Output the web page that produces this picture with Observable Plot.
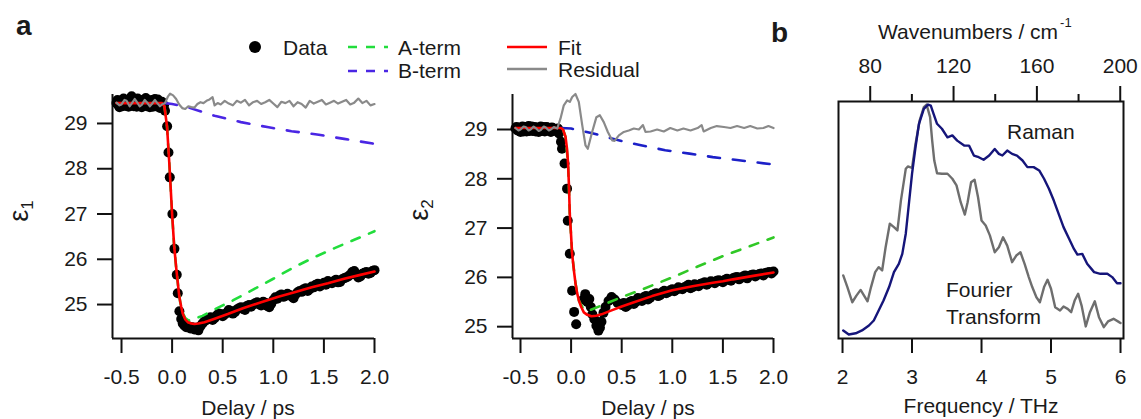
<!DOCTYPE html>
<html><head><meta charset="utf-8">
<script src="https://cdn.jsdelivr.net/npm/d3@7"></script>
<script src="https://cdn.jsdelivr.net/npm/@observablehq/plot@0.6"></script>
<style>
html,body{margin:0;padding:0;background:#fff;}
#wrap{position:relative;width:1141px;height:419px;overflow:hidden;font-family:"Liberation Sans",Arial,sans-serif;}
</style></head><body><div id="wrap"></div>
<script>
// ---------- Panel a, left: epsilon_1 ----------
const dataE1 = [[-0.55,29.45],[-0.54,29.52],[-0.53,29.40],[-0.52,29.36],[-0.51,29.48],[-0.50,29.44],[-0.49,29.38],[-0.48,29.55],[-0.47,29.50],[-0.46,29.39],[-0.45,29.44],[-0.44,29.48],[-0.43,29.37],[-0.42,29.52],[-0.41,29.56],[-0.40,29.60],[-0.39,29.50],[-0.38,29.38],[-0.37,29.42],[-0.36,29.46],[-0.35,29.37],[-0.34,29.55],[-0.33,29.48],[-0.32,29.40],[-0.31,29.52],[-0.30,29.36],[-0.29,29.40],[-0.28,29.50],[-0.27,29.45],[-0.26,29.56],[-0.25,29.38],[-0.24,29.44],[-0.23,29.50],[-0.22,29.36],[-0.21,29.43],[-0.20,29.52],[-0.19,29.37],[-0.18,29.45],[-0.17,29.54],[-0.16,29.38],[-0.15,29.47],[-0.14,29.53],[-0.13,29.40],[-0.12,29.34],[-0.11,29.44],[-0.10,29.48],[-0.09,29.36],[-0.08,29.40],[-0.07,29.28],
[-0.049,28.94],[-0.036,28.36],[-0.023,27.81],[0.003,27.0],[0.023,26.23],[0.046,25.66],[0.056,25.25],[0.072,24.85],
[0.09,24.68],[0.105,24.58],[0.12,24.54],[0.14,24.50],[0.16,24.52],[0.18,24.47],[0.20,24.50],[0.22,24.45],[0.24,24.49],[0.26,24.43],[0.28,24.52],[0.30,24.58],
[0.32,24.63],[0.34,24.66],[0.36,24.70],[0.38,24.72],[0.40,24.66],[0.42,24.70],[0.44,24.76],[0.46,24.80],[0.48,24.79],[0.50,24.74],[0.52,24.78],[0.54,24.82],[0.56,24.88],[0.58,24.86],[0.60,24.80],[0.62,24.83],[0.64,24.89],[0.66,24.92],[0.68,24.94],[0.70,24.90],[0.72,24.88],[0.74,24.97],[0.76,24.99],[0.78,24.95],[0.80,25.00],[0.82,25.03],[0.84,25.05],[0.86,25.00],[0.88,24.98],[0.90,25.06],[0.92,25.04],[0.94,24.97],[0.96,24.94],[0.98,25.02],[1.00,25.10],[1.02,25.16],[1.04,25.13],[1.06,25.20],[1.08,25.22],[1.10,25.17],[1.12,25.19],[1.14,25.24],[1.16,25.21],[1.18,25.18],[1.20,25.14],[1.22,25.22],[1.24,25.27],[1.26,25.30],[1.28,25.28],[1.30,25.34],[1.32,25.36],[1.34,25.30],[1.36,25.34],[1.38,25.40],[1.40,25.38],[1.42,25.44],[1.44,25.46],[1.46,25.40],[1.48,25.44],[1.50,25.48],[1.52,25.44],[1.54,25.52],[1.56,25.50],[1.58,25.47],[1.60,25.52],[1.62,25.55],[1.64,25.49],[1.66,25.50],[1.68,25.56],[1.70,25.58],[1.72,25.60],[1.74,25.62],[1.76,25.66],[1.78,25.72],[1.80,25.74],[1.82,25.66],[1.84,25.60],[1.86,25.62],[1.88,25.68],[1.90,25.70],[1.92,25.72],[1.94,25.68],[1.96,25.70],[1.98,25.74],[2.0,25.76]];
const fitE1 = [[-0.55,29.45],[-0.1,29.45],[-0.076,29.38],[-0.05,28.93],[-0.027,28.1],[0.0,27.0],[0.02,26.3],[0.04,25.82],[0.06,25.4],[0.072,25.16],[0.09,24.95],[0.105,24.8],[0.13,24.67],[0.155,24.61],[0.19,24.58],[0.22,24.57],[0.26,24.58],[0.32,24.61],[0.4,24.67],[0.55,24.79],[0.7,24.92],[0.88,25.05],[1.05,25.17],[1.21,25.27],[1.38,25.38],[1.54,25.47],[1.7,25.57],[1.85,25.65],[2.0,25.73]];
const aTermE1 = [[-0.076,29.38],[-0.05,28.93],[-0.027,28.1],[0.0,27.0],[0.02,26.3],[0.04,25.82],[0.06,25.4],[0.08,25.05],[0.1,24.84],[0.13,24.7],[0.16,24.65],[0.2,24.67],[0.3,24.75],[0.4,24.87],[0.5,24.98],[0.6,25.09],[0.8,25.33],[1.0,25.57],[1.2,25.82],[1.4,26.04],[1.6,26.24],[1.8,26.43],[2.0,26.62]];
const bTermE1 = [[-0.07,29.45],[0.0,29.43],[0.15,29.36],[0.42,29.17],[0.68,29.03],[0.94,28.92],[1.18,28.83],[1.45,28.75],[1.7,28.66],[2.0,28.55]];
const residE1 = [[-0.55,29.46],[-0.52,29.40],[-0.5,29.42],[-0.47,29.52],[-0.45,29.5],[-0.42,29.38],[-0.4,29.44],[-0.37,29.54],[-0.35,29.48],[-0.32,29.38],[-0.3,29.41],[-0.27,29.52],[-0.25,29.47],[-0.22,29.38],[-0.2,29.43],[-0.17,29.52],[-0.15,29.46],[-0.12,29.38],[-0.1,29.42],[-0.07,29.45],[-0.04,29.6],[-0.02,29.66],[0.01,29.62],[0.04,29.54],[0.07,29.42],[0.1,29.34],[0.13,29.32],[0.16,29.38],[0.19,29.36],[0.22,29.35],[0.25,29.43],[0.28,29.47],[0.31,29.45],[0.34,29.5],[0.37,29.53],[0.40,29.58],[0.42,29.40],[0.45,29.45],[0.48,29.42],[0.52,29.5],[0.56,29.44],[0.6,29.40],[0.64,29.5],[0.68,29.46],[0.72,29.52],[0.76,29.40],[0.8,29.47],[0.84,29.5],[0.88,29.43],[0.92,29.47],[0.96,29.52],[1.0,29.44],[1.04,29.36],[1.08,29.48],[1.12,29.45],[1.16,29.5],[1.2,29.38],[1.24,29.47],[1.28,29.43],[1.32,29.35],[1.36,29.5],[1.4,29.44],[1.44,29.48],[1.48,29.52],[1.52,29.42],[1.56,29.46],[1.6,29.5],[1.64,29.44],[1.68,29.48],[1.72,29.52],[1.76,29.42],[1.8,29.46],[1.84,29.55],[1.88,29.45],[1.92,29.5],[1.96,29.4],[2.0,29.43]];

// ---------- Panel a, right: epsilon_2 ----------
const dataE2 = [[-0.55,29.02],[-0.54,29.05],[-0.53,28.98],[-0.52,28.99],[-0.51,29.04],[-0.50,28.95],[-0.49,29.00],[-0.48,29.06],[-0.47,28.96],[-0.46,29.01],[-0.45,29.05],[-0.44,28.96],[-0.43,29.02],[-0.42,29.07],[-0.41,28.97],[-0.40,29.02],[-0.39,29.06],[-0.38,28.97],[-0.37,29.00],[-0.36,29.05],[-0.35,28.96],[-0.34,28.99],[-0.33,29.04],[-0.32,28.95],[-0.31,29.01],[-0.30,29.06],[-0.29,28.97],[-0.28,29.01],[-0.27,29.05],[-0.26,28.96],[-0.25,28.99],[-0.24,29.05],[-0.23,29.03],[-0.22,29.00],[-0.21,28.97],[-0.20,28.95],[-0.19,29.04],[-0.18,29.03],[-0.17,29.00],[-0.16,29.00],[-0.15,28.98],[-0.14,28.96],[-0.13,29.02],
[-0.12,28.92],[-0.10,28.75],[-0.09,28.61],[-0.065,28.31],[-0.04,27.80],[-0.033,27.15],[-0.013,26.48],[0.01,25.73],
[0.03,25.30],[0.05,25.05],[0.12,25.55],[0.14,25.66],[0.16,25.50],[0.18,25.56],[0.195,25.40],[0.21,25.25],[0.23,25.15],[0.25,25.02],[0.27,24.92],[0.285,24.98],[0.30,25.10],[0.32,25.28],[0.34,25.40],[0.37,25.52],[0.40,25.60],[0.43,25.55],[0.46,25.48],
[0.50,25.44],[0.52,25.48],[0.54,25.40],[0.56,25.43],[0.58,25.50],[0.60,25.52],[0.62,25.46],[0.64,25.50],[0.66,25.58],[0.68,25.55],[0.70,25.52],[0.72,25.60],[0.74,25.62],[0.76,25.55],[0.78,25.58],[0.80,25.64],[0.82,25.66],[0.84,25.68],[0.86,25.62],[0.88,25.64],[0.90,25.70],[0.92,25.73],[0.94,25.68],[0.96,25.70],[0.98,25.74],[1.00,25.76],[1.02,25.72],[1.04,25.75],[1.06,25.80],[1.08,25.78],[1.10,25.76],[1.12,25.80],[1.14,25.82],[1.16,25.85],[1.18,25.78],[1.20,25.80],[1.22,25.86],[1.24,25.84],[1.26,25.82],[1.28,25.87],[1.30,25.88],[1.32,25.90],[1.34,25.85],[1.36,25.88],[1.38,25.92],[1.40,25.91],[1.42,25.88],[1.44,25.93],[1.46,25.94],[1.48,25.92],[1.50,25.90],[1.52,25.95],[1.54,25.97],[1.56,25.95],[1.58,25.93],[1.60,25.98],[1.62,26.00],[1.64,26.01],[1.66,25.96],[1.68,25.99],[1.70,26.02],[1.72,26.04],[1.74,25.98],[1.76,26.03],[1.78,26.05],[1.80,26.06],[1.82,26.02],[1.84,26.05],[1.86,26.07],[1.88,26.08],[1.90,26.04],[1.92,26.09],[1.94,26.10],[1.96,26.11],[1.98,26.08],[2.0,26.12]];
const fitE2 = [[-0.55,29.03],[-0.1,29.03],[-0.08,29.0],[-0.055,28.85],[-0.04,28.6],[-0.03,28.31],[-0.02,27.8],[-0.013,27.29],[0.0,26.85],[0.01,26.48],[0.03,26.1],[0.044,25.87],[0.06,25.68],[0.077,25.53],[0.1,25.4],[0.126,25.29],[0.16,25.24],[0.2,25.21],[0.25,25.22],[0.3,25.25],[0.4,25.33],[0.5,25.41],[0.6,25.48],[0.8,25.62],[1.0,25.74],[1.2,25.82],[1.4,25.89],[1.5,25.92],[1.6,25.96],[1.8,26.03],[2.0,26.10]];
const aTermE2 = [[-0.08,29.0],[-0.055,28.85],[-0.03,28.31],[-0.013,27.29],[0.01,26.48],[0.044,25.87],[0.077,25.53],[0.12,25.36],[0.16,25.32],[0.19,25.34],[0.3,25.43],[0.5,25.6],[0.72,25.77],[1.0,26.0],[1.25,26.22],[1.51,26.44],[1.75,26.62],[2.0,26.81]];
const bTermE2 = [[-0.1,29.03],[0.0,29.02],[0.22,28.92],[0.45,28.79],[0.69,28.68],[0.93,28.58],[1.17,28.51],[1.4,28.44],[1.64,28.38],[2.0,28.29]];
const residE2 = [[-0.55,29.03],[-0.52,28.98],[-0.5,29.0],[-0.47,29.06],[-0.45,29.05],[-0.42,28.98],[-0.4,29.0],[-0.37,29.06],[-0.35,29.03],[-0.32,28.97],[-0.3,28.99],[-0.27,29.06],[-0.25,29.04],[-0.22,28.98],[-0.2,29.0],[-0.17,29.05],[-0.15,29.03],[-0.137,29.02],[-0.105,29.22],[-0.072,29.49],[-0.039,29.59],[-0.013,29.56],[0.011,29.66],[0.043,29.72],[0.076,29.56],[0.11,29.09],[0.142,28.68],[0.165,28.61],[0.208,28.95],[0.25,29.25],[0.284,29.29],[0.323,29.15],[0.363,28.95],[0.406,28.78],[0.43,28.77],[0.472,28.88],[0.521,28.95],[0.57,28.98],[0.62,29.02],[0.67,29.0],[0.71,29.09],[0.735,28.95],[0.785,28.96],[0.85,29.0],[0.916,28.96],[0.98,29.03],[1.05,28.98],[1.11,29.02],[1.18,28.98],[1.25,29.03],[1.29,29.09],[1.31,28.96],[1.38,29.03],[1.44,29.07],[1.51,29.05],[1.575,29.03],[1.64,29.07],[1.71,29.03],[1.77,29.07],[1.84,29.02],[1.9,29.03],[1.95,29.07],[2.0,29.03]];

// ---------- Panel b ----------
const raman = [[2.01,0.034],[2.09,0.017],[2.19,0.022],[2.28,0.034],[2.38,0.055],[2.45,0.076],[2.52,0.118],[2.59,0.160],[2.67,0.217],[2.74,0.280],[2.81,0.315],[2.86,0.357],[2.91,0.442],[2.95,0.554],[3.00,0.695],[3.05,0.807],[3.10,0.906],[3.17,0.969],[3.23,0.987],[3.27,0.983],[3.31,0.948],[3.36,0.906],[3.43,0.885],[3.51,0.849],[3.58,0.857],[3.65,0.835],[3.75,0.814],[3.82,0.814],[3.89,0.772],[3.96,0.765],[4.03,0.754],[4.11,0.772],[4.19,0.800],[4.25,0.779],[4.30,0.772],[4.37,0.793],[4.44,0.779],[4.51,0.772],[4.59,0.751],[4.66,0.723],[4.75,0.723],[4.83,0.709],[4.90,0.674],[4.97,0.632],[5.04,0.582],[5.11,0.526],[5.18,0.470],[5.26,0.421],[5.33,0.378],[5.38,0.354],[5.45,0.357],[5.52,0.315],[5.62,0.280],[5.71,0.273],[5.81,0.273],[5.88,0.259],[5.95,0.233],[6.00,0.233]];
const fourier = [[2.01,0.266],[2.07,0.217],[2.14,0.153],[2.20,0.181],[2.26,0.205],[2.31,0.181],[2.36,0.157],[2.41,0.217],[2.47,0.280],[2.52,0.301],[2.57,0.287],[2.62,0.385],[2.68,0.484],[2.74,0.470],[2.79,0.456],[2.84,0.582],[2.91,0.716],[2.94,0.726],[3.00,0.720],[3.05,0.821],[3.11,0.920],[3.17,0.976],[3.21,0.987],[3.26,0.934],[3.29,0.835],[3.32,0.751],[3.36,0.697],[3.43,0.695],[3.51,0.695],[3.58,0.674],[3.64,0.646],[3.70,0.575],[3.76,0.523],[3.80,0.575],[3.85,0.659],[3.90,0.670],[3.95,0.596],[4.00,0.498],[4.06,0.477],[4.12,0.435],[4.19,0.364],[4.25,0.385],[4.31,0.427],[4.37,0.392],[4.44,0.322],[4.50,0.350],[4.56,0.364],[4.62,0.315],[4.68,0.259],[4.73,0.217],[4.79,0.174],[4.84,0.153],[4.90,0.217],[4.95,0.248],[5.00,0.210],[5.06,0.132],[5.13,0.118],[5.18,0.135],[5.24,0.125],[5.29,0.111],[5.34,0.160],[5.39,0.189],[5.44,0.139],[5.50,0.051],[5.56,0.111],[5.63,0.157],[5.69,0.090],[5.76,0.048],[5.82,0.072],[5.90,0.083],[5.98,0.069],[6.00,0.065]];

const delayTicks = [-0.5, 0, 0.5, 1, 1.5, 2];
const epsTicks = [25, 26, 27, 28, 29];
const freqTicks = [2, 3, 4, 5, 6];
const wnMajor = [80, 120, 160, 200];
const wnMinor = [100, 140, 180];
const CM_PER_THZ = 33.356;

const FONT = "'Liberation Sans', Arial, sans-serif";
const wrap = document.getElementById("wrap");
const px = d => d[0], py = d => d[1];

function baseStyle(left) {
  return {position: "absolute", left: left + "px", top: "0px", background: "transparent",
          fontFamily: FONT, fontSize: "21px", color: "#1a1a1a", overflow: "visible", maxWidth: "none"};
}

function deltaPanel(cfg) {
  return Plot.plot({
    width: cfg.width, height: 419,
    marginLeft: cfg.ml, marginRight: cfg.mr, marginTop: 94, marginBottom: 81,
    style: baseStyle(cfg.left),
    x: {domain: cfg.xd},
    y: {domain: cfg.yd},
    marks: [
      Plot.ruleX([cfg.xd[0]], {stroke: "#111", strokeWidth: 2}),
      Plot.ruleY([cfg.yd[0]], {stroke: "#111", strokeWidth: 2}),
      Plot.axisX({ticks: delayTicks, tickSize: 15, tickPadding: 16, strokeWidth: 2, stroke: "#111",
                  tickFormat: d => d.toFixed(1), label: null, fontSize: 21}),
      Plot.axisY({ticks: epsTicks, tickSize: 15, tickPadding: 10, strokeWidth: 2, stroke: "#111",
                  tickFormat: d => String(d), label: null, fontSize: 21}),
      Plot.dot(cfg.data, {x: px, y: py, r: 5, fill: "#000", stroke: null}),
      Plot.line(cfg.bterm, {x: px, y: py, stroke: cfg.bColor, strokeWidth: 2.6, strokeDasharray: "12,13"}),
      Plot.line(cfg.aterm, {x: px, y: py, stroke: cfg.aColor, strokeWidth: 2.6, strokeDasharray: "9,10"}),
      Plot.line(cfg.fit, {x: px, y: py, stroke: "#ff0000", strokeWidth: 2.6}),
      Plot.line(cfg.resid, {x: px, y: py, stroke: "#8a8a8a", strokeWidth: 2.2})
    ]
  });
}

wrap.appendChild(deltaPanel({left: 0, width: 420, ml: 112, mr: 46, xd: [-0.589, 2.0], yd: [24.25, 29.64],
  data: dataE1, fit: fitE1, aterm: aTermE1, bterm: bTermE1, resid: residE1, aColor: "#22dd3c", bColor: "#4a26e4"}));
wrap.appendChild(deltaPanel({left: 420, width: 380, ml: 92, mr: 27, xd: [-0.579, 2.0], yd: [24.76, 29.71],
  data: dataE2, fit: fitE2, aterm: aTermE2, bterm: bTermE2, resid: residE2, aColor: "#30c826", bColor: "#1c20c8"}));

const panelB = Plot.plot({
  width: 351, height: 419,
  marginLeft: 48, marginRight: 18, marginTop: 101, marginBottom: 81,
  style: baseStyle(790),
  x: {domain: [1.942, 6.043]},
  y: {domain: [0, 1], axis: null},
  marks: [
    Plot.frame({stroke: "#111", strokeWidth: 2}),
    Plot.axisX({ticks: freqTicks, tickSize: 15, tickPadding: 16, strokeWidth: 2, stroke: "#111",
                tickFormat: d => String(d), label: null, fontSize: 21}),
    Plot.axisX({anchor: "top", ticks: wnMajor.map(w => w / CM_PER_THZ), tickSize: 16, tickPadding: 13,
                strokeWidth: 2, stroke: "#111", tickFormat: d => String(Math.round(d * CM_PER_THZ)), label: null, fontSize: 21}),
    Plot.axisX({anchor: "top", ticks: wnMinor.map(w => w / CM_PER_THZ), tickSize: 8, tickPadding: 0,
                strokeWidth: 2, stroke: "#111", tickFormat: () => "", label: null}),
    Plot.line(fourier, {x: px, y: py, stroke: "#6e6e6e", strokeWidth: 2.4}),
    Plot.line(raman, {x: px, y: py, stroke: "#15157a", strokeWidth: 2.4})
  ]
});
wrap.appendChild(panelB);

// ---------- overlay: panel letters, legend, axis titles, annotations ----------
const ov = d3.create("svg").attr("width", 1141).attr("height", 419)
  .style("position", "absolute").style("left", "0px").style("top", "0px")
  .style("font-family", FONT).style("font-size", "21px").attr("fill", "#1a1a1a");

function txt(x, y, s, opts = {}) {
  const t = ov.append("text").attr("x", x).attr("y", y).text(s);
  if (opts.anchor) t.attr("text-anchor", opts.anchor);
  if (opts.size) t.attr("font-size", opts.size);
  if (opts.weight) t.attr("font-weight", opts.weight);
  return t;
}
txt(16, 35, "a", {size: 28, weight: "bold"});
txt(771, 42, "b", {size: 28, weight: "bold"});

// legend
ov.append("circle").attr("cx", 255).attr("cy", 47).attr("r", 6).attr("fill", "#000");
txt(283, 55, "Data");
ov.append("line").attr("x1", 348).attr("x2", 388).attr("y1", 47).attr("y2", 47)
  .attr("stroke", "#22dd3c").attr("stroke-width", 2.6).attr("stroke-dasharray", "9,9");
txt(398, 55, "A-term");
ov.append("line").attr("x1", 348).attr("x2", 388).attr("y1", 71).attr("y2", 71)
  .attr("stroke", "#4a26e4").attr("stroke-width", 2.6).attr("stroke-dasharray", "9,9");
txt(398, 78, "B-term");
ov.append("line").attr("x1", 507).attr("x2", 547).attr("y1", 47).attr("y2", 47)
  .attr("stroke", "#ff0000").attr("stroke-width", 2.6);
txt(558, 55, "Fit");
ov.append("line").attr("x1", 507).attr("x2", 547).attr("y1", 69).attr("y2", 69)
  .attr("stroke", "#8a8a8a").attr("stroke-width", 2.6);
txt(558, 77, "Residual");

// axis titles
txt(248, 415, "Delay / ps", {anchor: "middle"});
txt(648, 415, "Delay / ps", {anchor: "middle"});
txt(981, 413, "Frequency / THz", {anchor: "middle"});
const wn = txt(878, 39, "Wavenumbers / cm");
wn.append("tspan").attr("font-size", 13).attr("dy", -12).attr("dx", 2).text("-1");

function epsLabel(x, y, sub) {
  const t = ov.append("text").attr("transform", `translate(${x},${y}) rotate(-90)`)
    .attr("text-anchor", "middle").attr("font-size", 27).text("ε");
  t.append("tspan").attr("font-size", 17).attr("dy", 5).text(sub);
}
epsLabel(28, 211, "1");
epsLabel(428, 210, "2");

// panel b annotations
txt(1007, 139, "Raman");
txt(946, 297, "Fourier");
txt(946, 324, "Transform");

wrap.appendChild(ov.node());
</script></body></html>
